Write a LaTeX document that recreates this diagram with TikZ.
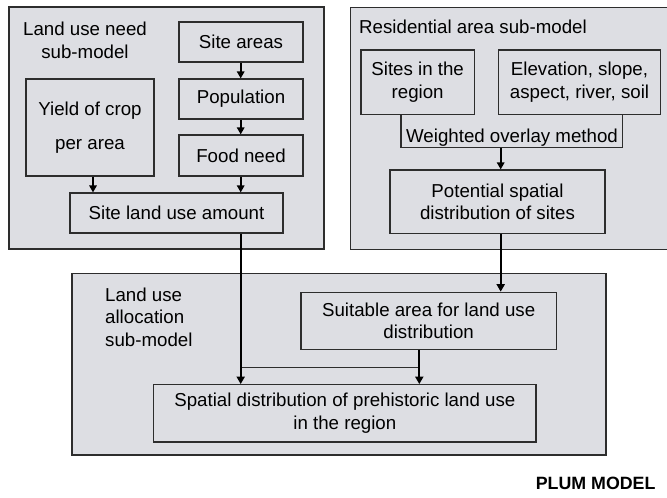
\documentclass[tikz,border=0pt]{standalone}
\usepackage{fontspec}
\setmainfont{Liberation Sans}
\usetikzlibrary{arrows.meta}
\definecolor{boxfill}{RGB}{221,222,227}
\definecolor{edge}{RGB}{45,45,45}
\begin{document}
\begin{tikzpicture}[x=1pt,y=-1pt,
  txt/.style={font=\fontsize{18.7}{22.5}\selectfont, text=black},
  outerbox/.style={draw=edge, fill=boxfill, line width=1.2pt, inner sep=0pt},
  box/.style={txt, draw=edge, fill=boxfill, line width=1.2pt, inner sep=0pt, align=center},
  label/.style={txt, inner sep=0pt},
  sarr/.style={draw=black, line width=1.6pt, -{Triangle[length=7pt,width=7.5pt]}},
  barr/.style={draw=black, line width=2pt, -{Triangle[length=7.5pt,width=8pt]}},
  thinline/.style={draw=edge, line width=1.2pt}]
\useasboundingbox (0,0) rectangle (667,498);
% outer sub-model boxes
\node[outerbox, minimum width=315pt, minimum height=242pt] (needbox) at (166.5,128) {};
\node[outerbox, minimum width=317.3pt, minimum height=242pt] (resbox) at (509.35,128.3) {};
\node[outerbox, minimum width=534pt, minimum height=181.7pt] (allocbox) at (339,364.15) {};
% titles
\node[label, align=center] (needtitle) at (85,40.5) {Land use need\\sub-model};
\node[label, anchor=base west] (restitle) at (359,33.3) {Residential area sub-model};
\node[label, align=left, anchor=west] (alloctitle) at (105,317) {Land use\\allocation\\sub-model};
% land use need sub-model
\node[box, minimum width=124pt, minimum height=40pt] (sitea) at (241,42) {Site areas};
\node[box, minimum width=124pt, minimum height=40pt] (pop) at (241,99) {Population};
\node[box, minimum width=124pt, minimum height=41pt] (food) at (241,155.5) {Food need};
\node[box, minimum width=128pt, minimum height=97pt] (yield) at (90,127.5) {Yield of crop\\[12pt]per area};
\node[box, minimum width=213pt, minimum height=40pt] (slua) at (176.5,213) {Site land use amount};
% residential area sub-model
\node[box, minimum width=113.3pt, minimum height=64.3pt] (sites) at (417.65,82.15) {Sites in the\\region};
\node[box, minimum width=162.4pt, minimum height=64.3pt] (elev) at (579.5,82.15) {Elevation, slope,\\aspect, river, soil};
\node[label, anchor=base] (weighted) at (512,142.3) {Weighted overlay method};
\node[box, minimum width=215pt, minimum height=63.3pt] (potential) at (497.5,201.65) {Potential spatial\\distribution of sites};
% allocation sub-model
\node[box, minimum width=255.3pt, minimum height=57pt] (suitable) at (428.65,320.8) {Suitable area for land use\\distribution};
\node[box, minimum width=382.3pt, minimum height=57.3pt] (spatial) at (344.85,413.35) {Spatial distribution of prehistoric land use\\in the region};
\node[font=\bfseries\fontsize{17.8}{20}\selectfont, inner sep=0pt, anchor=base east] (plum) at (655.7,489.3) {PLUM MODEL};
% helper coordinates
\coordinate (xa) at (240.7,0);
\coordinate (xy) at (93,0);
\coordinate (xb) at (401,0);
\coordinate (xc) at (622.7,0);
\coordinate (wb) at (500.7,147.7);
\coordinate (xd) at (419.3,0);
\coordinate (yh) at (0,367.7);
% connectors
\draw[sarr] (sitea.south -| xa) -- (pop.north -| xa);
\draw[sarr] (pop.south -| xa) -- (food.north -| xa);
\draw[sarr] (food.south -| xa) -- (slua.north -| xa);
\draw[sarr] (yield.south -| xy) -- (slua.north -| xy);
\draw[thinline] (sites.south -| xb) |- (wb) -| (elev.south -| xc);
\draw[sarr] (wb) -- (potential.north -| wb);
\draw[barr] (potential.south -| wb) -- (suitable.north -| wb);
\draw[thinline] (xa |- yh) -- (xd |- yh);
\draw[barr] (slua.south -| xa) -- (spatial.north -| xa);
\draw[barr] (suitable.south -| xd) -- (spatial.north -| xd);
\end{tikzpicture}
\end{document}
